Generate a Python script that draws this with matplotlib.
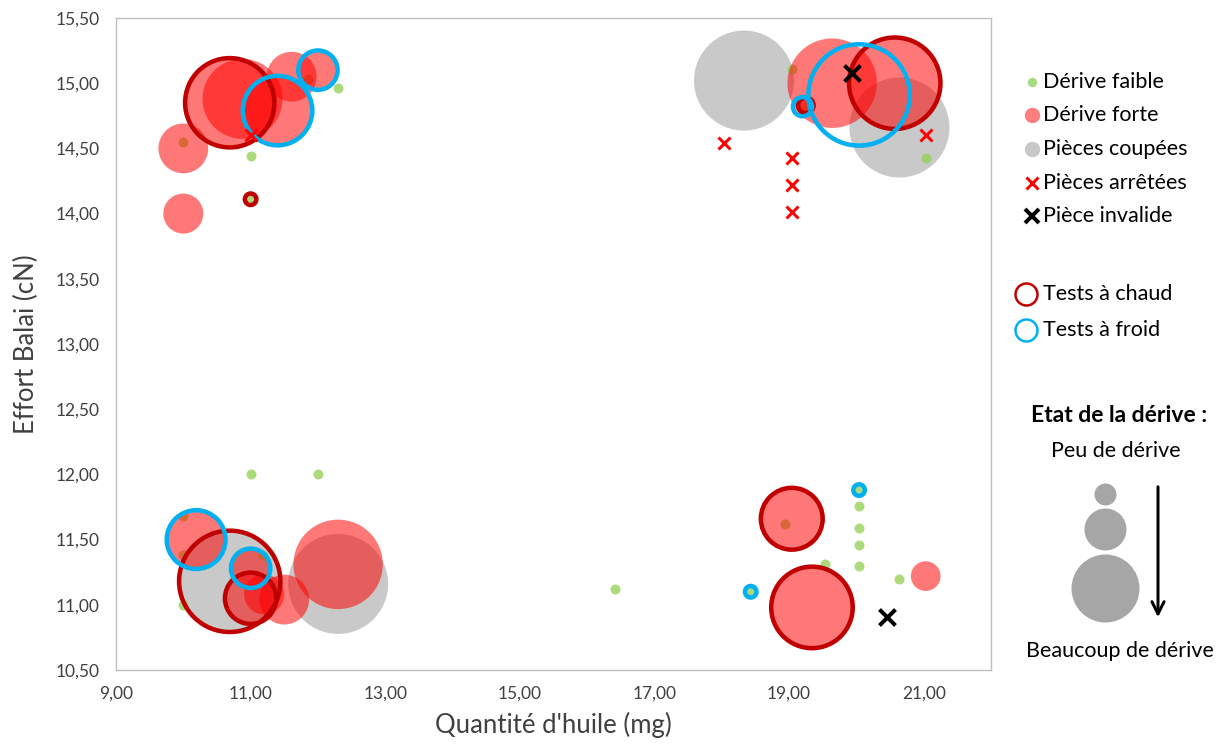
import numpy as np
import matplotlib
matplotlib.use('Agg')
import matplotlib.pyplot as plt
from matplotlib.ticker import FuncFormatter

plt.rcParams['font.family'] = ['Lato', 'DejaVu Sans']

# Dérive faible (petits points verts)
faible_x = [12.3, 11.85, 10.0, 11.0, 11.0, 19.04, 19.24, 21.03, 11.0, 12.0, 10.0, 10.0, 10.0, 11.18,
            16.42, 18.43, 18.94, 20.04, 20.04, 20.04, 20.04, 20.04, 19.54, 20.64]
faible_y = [14.96, 15.03, 14.55, 14.44, 14.11, 15.11, 14.82, 14.43, 12.0, 12.0, 11.68, 11.38, 11.0, 11.38,
            11.12, 11.1, 11.62, 11.88, 11.76, 11.59, 11.46, 11.30, 11.31, 11.2]

# Dérive forte (bulles rouges), taille = amplitude de dérive
forte_x = [10.69, 10.88, 11.61, 12.0, 11.4, 10.0, 10.0, 19.64, 19.24, 20.57,
           10.19, 11.0, 11.0, 11.5, 11.2, 12.3, 19.04, 19.34, 21.03]
forte_y = [14.85, 14.88, 15.05, 15.1, 14.79, 14.5, 14.0, 15.0, 14.82, 15.0,
           11.5, 11.28, 11.05, 11.04, 11.08, 11.31, 11.66, 10.98, 11.22]
forte_d = [20, 16, 6.2, 3.2, 12, 6.2, 4, 20, 0.8, 21,
           7.8, 4, 6.8, 6.2, 4, 20, 9.6, 17, 2.2]

# Pièces coupées
coupees_x = [18.33, 20.64, 10.69, 12.3]
coupees_y = [15.02, 14.66, 11.18, 11.16]
coupees_d = [25, 25, 25, 25]

# Pièces arrêtées / invalides
arretees_x = [11.0, 18.03, 19.04, 19.04, 19.04, 21.03]
arretees_y = [14.6, 14.54, 14.43, 14.22, 14.01, 14.6]
invalide_x = [19.94, 20.45]
invalide_y = [15.08, 10.91]

# Tests à chaud / à froid (anneaux)
chaud_x = [10.69, 11.0, 20.57, 19.25, 10.69, 11.0, 19.04, 19.34]
chaud_y = [14.85, 14.11, 15.0, 14.83, 11.18, 11.05, 11.66, 10.98]
chaud_d = [22, 0.64, 23, 1.0, 28, 7.8, 11, 18.5]
froid_x = [12.0, 11.4, 20.04, 19.2, 10.19, 11.0, 18.43, 20.04]
froid_y = [15.1, 14.79, 14.91, 14.82, 11.5, 11.28, 11.1, 11.88]
froid_d = [4.8, 13.7, 28, 1.4, 10, 4.8, 0.64, 0.64]

PX = 0.72  # points per pixel at dpi 100
RING_LW = 4.5  # px


def bubble_s(d):
    r = 10 * np.sqrt(np.asarray(d, dtype=float))
    return (PX * 2 * r) ** 2


def ring_s(d):
    r = 10 * np.sqrt(np.asarray(d, dtype=float))
    return (PX * (2 * r - RING_LW)) ** 2


fig = plt.figure(figsize=(12.28, 7.45), dpi=100)
ax = fig.add_axes([116 / 1228, 1 - 670 / 745, 875 / 1228, 652 / 745])

ax.scatter(coupees_x, coupees_y, s=bubble_s(coupees_d), color='#A6A6A6', alpha=0.6, linewidths=0, zorder=2)
ax.scatter(faible_x, faible_y, s=(PX * 10) ** 2, color='#92D050', alpha=0.75, linewidths=0, zorder=3)
ax.scatter(forte_x, forte_y, s=bubble_s(forte_d), color='#FF0000', alpha=0.53, linewidths=0, zorder=4)
ax.scatter(chaud_x, chaud_y, s=ring_s(chaud_d), facecolors='none', edgecolors='#C00000',
           linewidths=RING_LW * PX, zorder=5)
ax.scatter(froid_x, froid_y, s=ring_s(froid_d), facecolors='none', edgecolors='#00B0F0',
           linewidths=RING_LW * PX, zorder=6)
ax.scatter(arretees_x, arretees_y, s=(PX * 12) ** 2, marker='x', color='#FF0000', linewidths=3 * PX, zorder=7)
ax.scatter(invalide_x, invalide_y, s=(PX * 16) ** 2, marker='x', color='black', linewidths=4 * PX, zorder=8)

ax.set_xlim(9, 22)
ax.set_ylim(10.5, 15.5)
ax.set_xticks(np.arange(9, 22, 2))
ax.set_yticks(np.arange(10.5, 15.51, 0.5))
fmt = FuncFormatter(lambda v, p: f"{v:.2f}".replace('.', ','))
ax.xaxis.set_major_formatter(fmt)
ax.yaxis.set_major_formatter(fmt)
ax.tick_params(length=0, labelsize=12.5, colors='#404040')
ax.tick_params(axis='x', pad=11)
ax.tick_params(axis='y', pad=12)
for sp in ax.spines.values():
    sp.set_color('#BFBFBF')
    sp.set_linewidth(1)
ax.set_xlabel("Quantité d'huile (mg)", fontsize=18.5, color='#404040', labelpad=8)
ax.set_ylabel("Effort Balai (cN)", fontsize=18.5, color='#404040', labelpad=12)

# Légende et schéma explicatif (coordonnées en pixels)
lg = fig.add_axes([0, 0, 1, 1], zorder=10)
lg.set_xlim(0, 1228)
lg.set_ylim(745, 0)
lg.axis('off')
lg.patch.set_alpha(0)

tx = 1043
fs = 15.5
items = [
    (82, dict(marker='o', ms=8 * PX, color='#A9DB80')),
    (115, dict(marker='o', ms=14 * PX, color='#FF7F7F')),
    (149, dict(marker='o', ms=14 * PX, color='#C8C8C8')),
    (183, dict(marker='x', ms=12 * PX, mew=3 * PX, color='#FF0000')),
    (216, dict(marker='x', ms=14 * PX, mew=4 * PX, color='black')),
]
labels = ['Dérive faible', 'Dérive forte', 'Pièces coupées', 'Pièces arrêtées', 'Pièce invalide']
for (y, st), lab in zip(items, labels):
    lg.plot([1032], [y], linestyle='none', **st)
    lg.text(tx, y, lab, fontsize=fs, va='center', ha='left', color='black')

lg.plot([1026], [294], marker='o', ms=22 * PX, mfc='none', mec='#C00000', mew=2.5 * PX, linestyle='none')
lg.text(tx, 294, 'Tests à chaud', fontsize=fs, va='center', ha='left')
lg.plot([1026], [330], marker='o', ms=22 * PX, mfc='none', mec='#00B0F0', mew=2.5 * PX, linestyle='none')
lg.text(tx, 330, 'Tests à froid', fontsize=fs, va='center', ha='left')

lg.text(1119, 416, 'Etat de la dérive :', fontsize=16.5, fontweight='bold', ha='center', va='center')
lg.text(1116, 451, 'Peu de dérive', fontsize=15.5, ha='center', va='center')
lg.text(1120, 651, 'Beaucoup de dérive', fontsize=15.5, ha='center', va='center')
for cy, r in [(494, 11), (529, 21), (588, 34)]:
    lg.plot([1105], [cy], marker='o', ms=2 * r * PX, color='#A6A6A6', mew=0, linestyle='none')
lg.annotate('', xy=(1158, 620), xytext=(1158, 484),
            arrowprops=dict(arrowstyle='->', lw=3 * PX, color='black', mutation_scale=22))

fig.savefig('out.png', dpi=100)
